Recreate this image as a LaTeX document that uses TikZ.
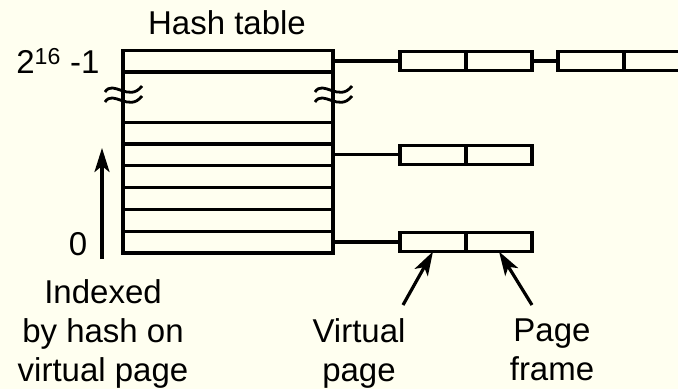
\documentclass[tikz,border=0pt]{standalone}
\usepackage{fontspec}
\setmainfont{Liberation Sans}
\usetikzlibrary{positioning}
\usetikzlibrary{arrows.meta}
\definecolor{paper}{RGB}{255,255,240}
\tikzset{
    hashpic/.style={x=1pt,y=-1pt,line width=3.2pt,
                     font=\fontsize{33}{39}\selectfont},
    row/.style={rectangle,draw,minimum width=210pt,minimum height=21.8pt,
                inner sep=0pt,outer sep=0pt},
    cell/.style={rectangle,draw,minimum width=66pt,minimum height=19pt,
                 inner sep=0pt,outer sep=0pt},
    pointer/.style={-{Stealth[length=24pt,width=15pt,inset=6pt]},line width=3.2pt},
    label/.style={align=center,inner sep=0pt},
    breakmark/.pic={
        \draw[line width=2.8pt] (-18,-1) .. controls (-10,-14) and (6,10) .. (19,-7);
        \draw[line width=2.8pt] (-18,9) .. controls (-10,-4) and (6,20) .. (19,3);
    },
    }

\begin{document}
\begin{tikzpicture}[hashpic]
            \fill[paper] (0,0) rectangle (678,389);
            \useasboundingbox (0,0) rectangle (678,389);

            % hash table
            \node[row] (top) at (228,61) {};
            \node[row] (r1) at (228,133) {};
            \foreach \i [count=\j from 2] in {1,...,5}
                \node[row] (r\j) [below=0pt of r\i] {};
            \draw (top.south west) -- (r1.north west);
            \draw (top.south east) -- (r1.north east);
            \pic at (123,93) {breakmark};
            \pic at (333,93) {breakmark};

            % chains
            \node[cell] (vp1) at (433,61) {};
            \node[cell] (pf1) [right=0pt of vp1] {};
            \node[cell] (vq1) [right=26pt of pf1] {};
            \node[cell] (pq1) [right=0pt of vq1] {};
            \node[cell] (vp2) at (433,0 |- r2) {};
            \node[cell] (pf2) [right=0pt of vp2] {};
            \node[cell] (vp3) at (433,0 |- r6) {};
            \node[cell] (pf3) [right=0pt of vp3] {};

            \path (top.east) edge[] (vp1.west);
            \path (pf1.east) edge[] (vq1.west);
            \path (r2.east) edge[] (vp2.west);
            \path (r6.east) edge[] (vp3.west);

            % labels
            \node[label] (title) at (227,23) {Hash table};
            \node[label,anchor=east] (max) at (101,61) {2\textsuperscript{16} -1};
            \node[label] (zero) at (78,244) {0};
            \node[label,anchor=north] (index) at (103,278) {Indexed\\by hash on\\virtual page};
            \node[label,anchor=north] (vlab) at (359,317) {Virtual\\page};
            \node[label,anchor=north] (flab) at (552,317) {Page\\frame};

            \coordinate (ibot) at (102,259);
            \coordinate (itop) at (102,148);
            \coordinate (vtail) at (403,305);
            \coordinate (ftail) at (532,305);
            \draw[pointer] (ibot) -- (itop);
            \draw[pointer] (vtail) -- (vp3.south);
            \draw[pointer] (ftail) -- (pf3.south);
        \end{tikzpicture}
\end{document}
